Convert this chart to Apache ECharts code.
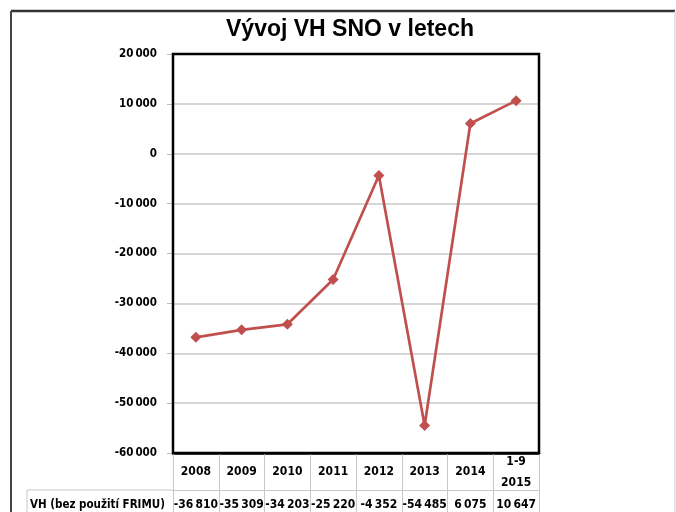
<!DOCTYPE html>
<html>
<head>
<meta charset="utf-8">
<script src="https://cdn.jsdelivr.net/npm/echarts@6/dist/echarts.min.js"></script>
<style>
html,body{margin:0;padding:0;background:#fff;}
#c{width:676px;height:512px;}
</style>
</head>
<body>
<div id="c"></div>
<script>
const title = 'Vývoj VH SNO v letech';
const categories = ['2008', '2009', '2010', '2011', '2012', '2013', '2014', '1-9\n2015'];
const values = [-36810, -35309, -34203, -25220, -4352, -54485, 6075, 10647];
const rowLabel = 'VH (bez použití FRIMU)';
const yMin = -60000, yMax = 20000, yStep = 10000;

const narrow = '"Liberation Sans Narrow", "DejaVu Sans Condensed", "Liberation Sans", sans-serif';
function fmt(v) {
  const s = Math.abs(v).toString().replace(/\B(?=(\d{3})+(?!\d))/g, '\u2009');
  return (v < 0 ? '-' : '') + s;
}

const chart = echarts.init(document.getElementById('c'), null, {renderer: 'canvas'});
const gridLeft = 173, gridTop = 54, gridW = 366, gridH = 399;
chart.setOption({
  animation: false,
  backgroundColor: '#fff',
  title: {
    text: title, left: 221, top: 13,
    textStyle: {fontFamily: '"Liberation Sans", Arial, sans-serif', fontWeight: 'bold', fontSize: 23, color: '#000'}
  },
  grid: {left: gridLeft, top: gridTop, width: gridW, height: gridH, show: false},
  xAxis: [{
    type: 'category', data: categories, boundaryGap: true, position: 'bottom',
    axisLine: {show: true, onZero: false, lineStyle: {color: '#000', width: 2.5}},
    axisTick: {show: true, length: 37, interval: 0, lineStyle: {color: '#c8c8c8', width: 1}},
    axisLabel: {interval: 0, margin: 19, verticalAlign: 'middle', lineHeight: 21,
      fontFamily: narrow, fontWeight: 'bold', fontSize: 12, color: '#000'},
    splitLine: {show: false}
  }, {
    type: 'category', data: categories, boundaryGap: true, position: 'bottom', offset: 37,
    axisLine: {show: true, onZero: false, lineStyle: {color: '#c8c8c8', width: 1}},
    axisTick: {show: true, length: 25, interval: 0, lineStyle: {color: '#c8c8c8', width: 1}},
    axisLabel: {interval: 0, margin: 15, verticalAlign: 'middle',
      formatter: (v, i) => fmt(values[i]),
      fontFamily: narrow, fontWeight: 'bold', fontSize: 12, color: '#000'},
    splitLine: {show: false}
  }],
  yAxis: {
    type: 'value', min: yMin, max: yMax, interval: yStep,
    axisLine: {show: false},
    axisTick: {show: true, length: 6, lineStyle: {color: '#bdbdbd'}},
    splitLine: {show: true, lineStyle: {color: '#c8c8c8', width: 1.5}},
    axisLabel: {margin: 16, formatter: v => fmt(v), fontFamily: narrow, fontWeight: 'bold', fontSize: 11.5, color: '#000'}
  },
  series: [{
    type: 'line', data: values, xAxisIndex: 0,
    symbol: 'diamond', symbolSize: 11,
    lineStyle: {color: '#c0504d', width: 2.7},
    itemStyle: {color: '#c0504d'},
    z: 5
  }],
  graphic: [
    {type: 'rect', z: 100, shape: {x: gridLeft, y: gridTop, width: gridW, height: gridH}, style: {fill: 'none', stroke: '#000', lineWidth: 2.5}},
    {type: 'line', shape: {x1: 11, y1: 11, x2: 675, y2: 11}, style: {stroke: '#333', lineWidth: 2.5}},
    {type: 'line', shape: {x1: 11, y1: 11, x2: 11, y2: 512}, style: {stroke: '#444', lineWidth: 2}},
    {type: 'line', shape: {x1: 675, y1: 11, x2: 675, y2: 512}, style: {stroke: '#c8c8c8', lineWidth: 1}},
    {type: 'line', shape: {x1: 27, y1: 490, x2: 173, y2: 490}, style: {stroke: '#c8c8c8', lineWidth: 1}},
    {type: 'line', shape: {x1: 27, y1: 490, x2: 27, y2: 512}, style: {stroke: '#c8c8c8', lineWidth: 1}},
    {type: 'text', left: 30, top: 499, style: {text: rowLabel, fontFamily: narrow, fontWeight: 'bold', fontSize: 11.5, fill: '#000'}}
  ]
});
</script>
</body>
</html>
